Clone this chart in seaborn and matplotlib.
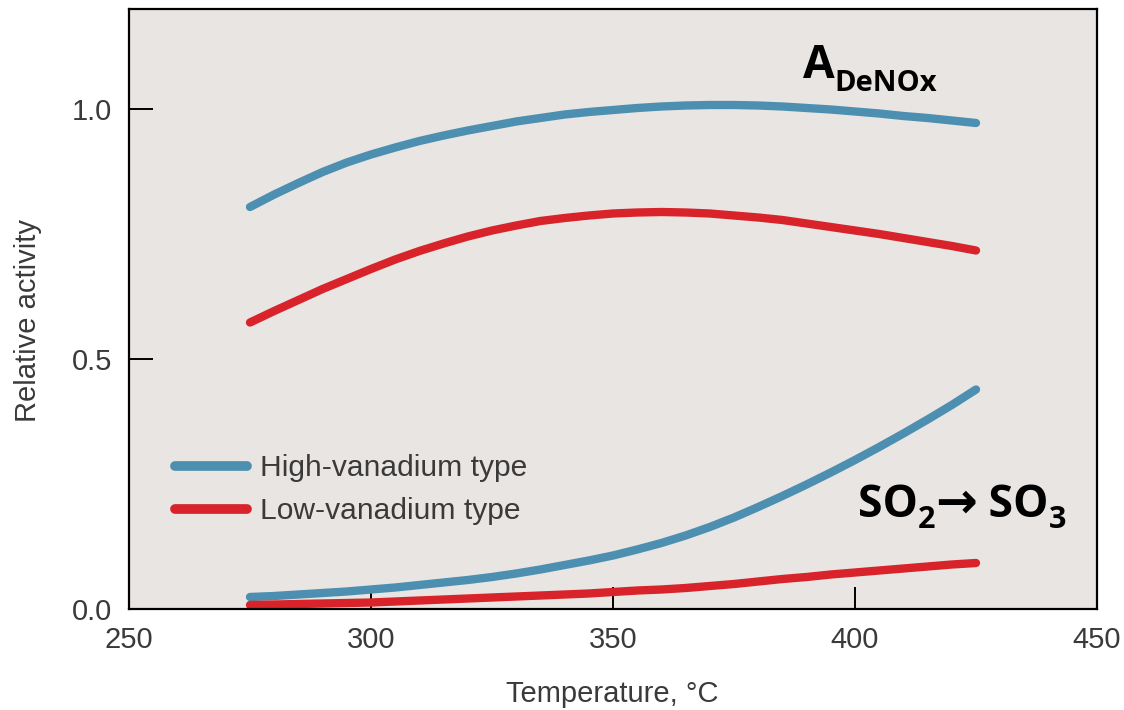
import matplotlib
matplotlib.use("Agg")
import matplotlib.pyplot as plt
from matplotlib import transforms
import pandas as pd
import seaborn as sns

# Catalyst activity vs. temperature (relative units)
temperature = [275, 280, 285, 290, 295, 300, 305, 310, 315, 320, 325, 330, 335, 340, 345,
               350, 355, 360, 365, 370, 375, 380, 385, 390, 395, 400, 405, 410, 415, 420, 425]
denox_high = [0.804, 0.829, 0.852, 0.874, 0.893, 0.909, 0.923, 0.936, 0.947, 0.957, 0.966,
              0.975, 0.982, 0.989, 0.994, 0.998, 1.002, 1.005, 1.007, 1.008, 1.008, 1.007,
              1.005, 1.002, 0.999, 0.995, 0.991, 0.986, 0.982, 0.977, 0.972]
denox_low = [0.573, 0.596, 0.618, 0.640, 0.660, 0.680, 0.699, 0.716, 0.731, 0.745, 0.757,
             0.767, 0.776, 0.782, 0.787, 0.791, 0.793, 0.794, 0.793, 0.791, 0.787, 0.783,
             0.778, 0.771, 0.764, 0.757, 0.750, 0.742, 0.734, 0.726, 0.717]
so3_high = [0.024, 0.026, 0.029, 0.032, 0.035, 0.039, 0.043, 0.048, 0.053, 0.058, 0.064,
            0.071, 0.079, 0.088, 0.097, 0.107, 0.119, 0.132, 0.147, 0.164, 0.183, 0.204,
            0.226, 0.249, 0.273, 0.298, 0.324, 0.351, 0.379, 0.408, 0.439]
so3_low = [0.008, 0.009, 0.010, 0.011, 0.012, 0.013, 0.015, 0.017, 0.019, 0.021, 0.023,
           0.025, 0.027, 0.029, 0.031, 0.034, 0.037, 0.039, 0.042, 0.046, 0.050, 0.055,
           0.060, 0.064, 0.069, 0.073, 0.077, 0.081, 0.085, 0.089, 0.092]
catalyst_types = ["High-vanadium type", "Low-vanadium type"]
x_ticks = [250, 300, 350, 400, 450]
y_ticks = [0.0, 0.5, 1.0]
y_tick_labels = ["0.0", "0.5", "1.0"]

palette = {catalyst_types[0]: "#4c8fb0", catalyst_types[1]: "#d8232a"}


def long_table(high, low):
    return pd.DataFrame({
        "Temperature": temperature * 2,
        "Activity": high + low,
        "Type": [catalyst_types[0]] * len(high) + [catalyst_types[1]] * len(low),
    })


denox = long_table(denox_high, denox_low)
so3 = long_table(so3_high, so3_low)

sns.set_theme(style="white")
plt.rcParams["font.family"] = ["Liberation Sans", "DejaVu Sans"]

fig = plt.figure(figsize=(11.24, 7.10), dpi=100)
ax = fig.add_axes([129 / 1124, 101 / 710, 968 / 1124, 600 / 710])
ax.set_facecolor("#e8e5e2")

line_kw = dict(linewidth=6, solid_capstyle="round", solid_joinstyle="round")
sns.lineplot(data=denox, x="Temperature", y="Activity", hue="Type",
             palette=palette, ax=ax, **line_kw)
sns.lineplot(data=so3, x="Temperature", y="Activity", hue="Type",
             palette=palette, ax=ax, legend=False, **line_kw)

ax.set_xlim(250, 450)
ax.set_ylim(0, 1.2)
ax.set_xticks(x_ticks)
ax.set_yticks(y_ticks)
ax.set_yticklabels(y_tick_labels)

text_color = "#3a3a3a"
ax.tick_params(bottom=True, left=True, top=False, right=False,
               direction="in", width=1.4, color="black",
               labelsize=21, labelcolor=text_color, pad=12)
ax.tick_params(axis="x", length=16)
ax.tick_params(axis="y", length=17)
for side in ["left", "right", "top", "bottom"]:
    ax.spines[side].set_visible(True)
    ax.spines[side].set_color("black")
    ax.spines[side].set_linewidth(1.6)

ax.set_xlabel("Temperature, °C", fontsize=21, color=text_color)
ax.set_ylabel("Relative activity", fontsize=21, color=text_color)
ax.xaxis.set_label_coords(0.499, -0.118)
ax.yaxis.set_label_coords(-0.09, 0.48)

leg = ax.legend(loc="upper left", bbox_to_anchor=(0.0475, 0.258), frameon=False,
                fontsize=21.6, handlelength=2.4, handletextpad=0.45,
                labelspacing=0.5, borderpad=0, borderaxespad=0)
for t in leg.get_texts():
    t.set_color(text_color)
for h in leg.get_lines():
    h.set_linewidth(7)
    h.set_solid_capstyle("round")


def text_run(x, y, parts):
    """Draw consecutive bold text pieces (text, size, baseline shift in px)."""
    renderer = fig.canvas.get_renderer()
    dx = 0.0
    for s, size, dy in parts:
        tr = transforms.offset_copy(ax.transData, fig=fig, x=dx, y=dy, units="dots")
        t = ax.text(x, y, s, transform=tr, fontsize=size, fontweight="bold",
                    family=["Open Sans", "DejaVu Sans"], ha="left", va="baseline",
                    color="black")
        dx += t.get_window_extent(renderer).width


text_run(389.3, 1.062, [("A", 33, 0), ("DeNOx", 21, -13)])
text_run(400.6, 0.184, [("SO", 32, 0), ("2", 22, -11), ("→", 36, -1),
                        (" SO", 32, 0), ("3", 22, -11)])

fig.savefig("out.png", dpi=100, facecolor="white")
